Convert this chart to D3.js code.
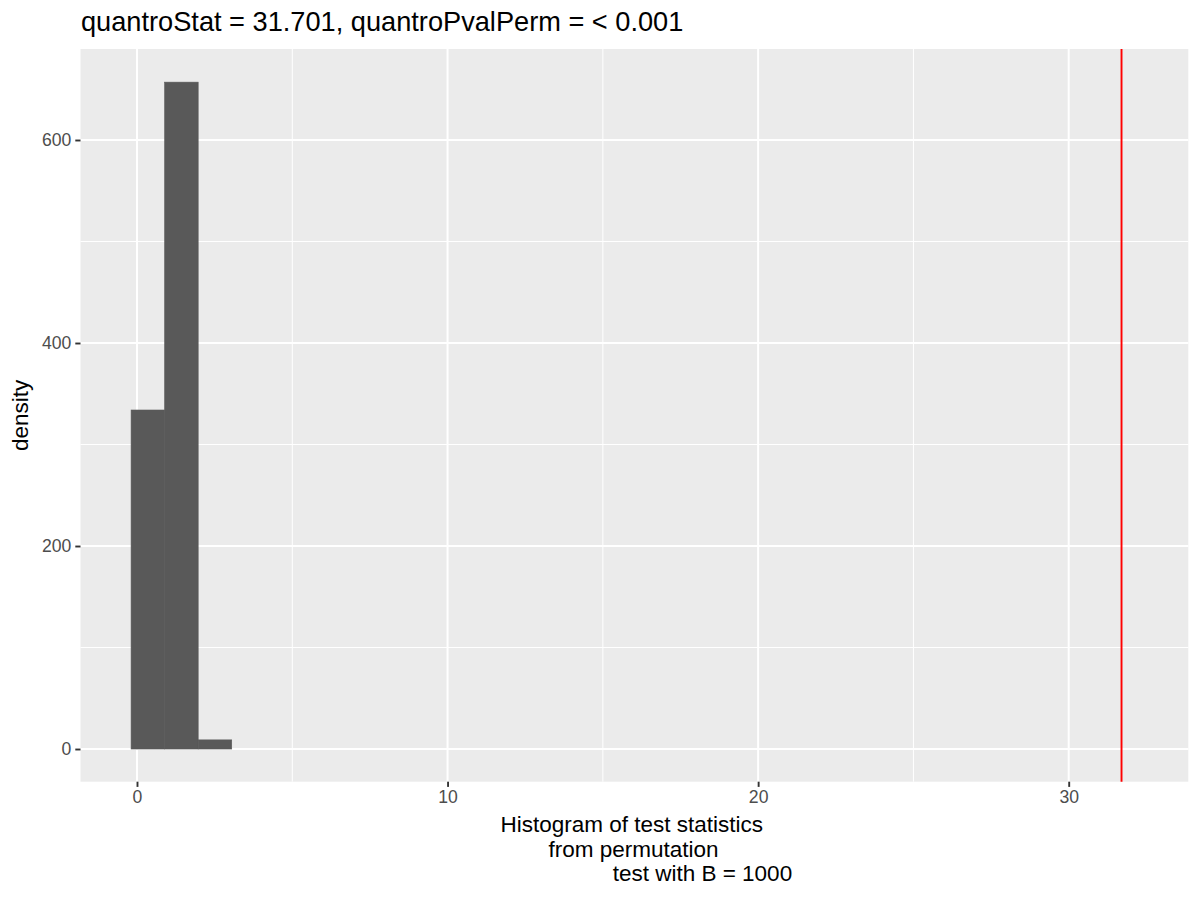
<!DOCTYPE html>
<html>
<head>
<meta charset="utf-8">
<script src="https://cdn.jsdelivr.net/npm/d3@7"></script>
<style>
  html, body { margin: 0; padding: 0; background: #fff; }
  svg { display: block; font-family: "Liberation Sans", Arial, sans-serif; }
</style>
</head>
<body>
<svg id="chart" width="1200" height="900"></svg>
<script>
// ---- data ----
const binStarts = [-0.19, 0.89, 1.97];
const binEnds   = [0.89, 1.97, 3.05];
const densities = [334, 657, 9];
const quantroStat = 31.701;
const xTicks = [0, 10, 20, 30];
const xMinor = [5, 15, 25];
const yTicks = [0, 200, 400, 600];
const yMinor = [100, 300, 500];
const titleText = "quantroStat = 31.701, quantroPvalPerm = < 0.001";
const xTitleLines = ["Histogram of test statistics", "from permutation", "test with B = 1000"];
const yTitle = "density";

// ---- layout ----
const svg = d3.select("#chart");
const panel = { left: 80.5, right: 1188.3, top: 49, bottom: 781.7 };

const x = d3.scaleLinear().domain([-1.819, 33.851]).range([panel.left, panel.right]);
const y = d3.scaleLinear().domain([-32.2, 689.66]).range([panel.bottom, panel.top]);

// panel background
svg.append("rect")
  .attr("x", panel.left).attr("y", panel.top)
  .attr("width", panel.right - panel.left).attr("height", panel.bottom - panel.top)
  .attr("fill", "#EBEBEB");

const g = svg.append("g");

// minor grid
g.selectAll(".xminor").data(xMinor).join("line")
  .attr("x1", d => x(d)).attr("x2", d => x(d))
  .attr("y1", panel.top).attr("y2", panel.bottom)
  .attr("stroke", "#fff").attr("stroke-width", 1);
g.selectAll(".yminor").data(yMinor).join("line")
  .attr("y1", d => y(d)).attr("y2", d => y(d))
  .attr("x1", panel.left).attr("x2", panel.right)
  .attr("stroke", "#fff").attr("stroke-width", 1);
// major grid
g.selectAll(".xmajor").data(xTicks).join("line")
  .attr("x1", d => x(d)).attr("x2", d => x(d))
  .attr("y1", panel.top).attr("y2", panel.bottom)
  .attr("stroke", "#fff").attr("stroke-width", 2);
g.selectAll(".ymajor").data(yTicks).join("line")
  .attr("y1", d => y(d)).attr("y2", d => y(d))
  .attr("x1", panel.left).attr("x2", panel.right)
  .attr("stroke", "#fff").attr("stroke-width", 2);

// bars
const bins = binStarts.map((s, i) => ({ x0: s, x1: binEnds[i], v: densities[i] }));
g.selectAll(".bar").data(bins).join("rect")
  .attr("x", d => x(d.x0))
  .attr("width", d => x(d.x1) - x(d.x0))
  .attr("y", d => y(d.v))
  .attr("height", d => y(0) - y(d.v))
  .attr("fill", "#595959")
  .attr("stroke", "#595959")
  .attr("stroke-width", 0.6);

// vline
g.append("line")
  .attr("x1", x(quantroStat)).attr("x2", x(quantroStat))
  .attr("y1", panel.top).attr("y2", panel.bottom)
  .attr("stroke", "#FF0000").attr("stroke-width", 1.9);

// axes
const xAxis = d3.axisBottom(x).tickValues(xTicks).tickSize(5.2).tickPadding(4).tickFormat(d3.format("d"));
const xg = svg.append("g").attr("transform", `translate(0,${panel.bottom})`).call(xAxis);
const yAxis = d3.axisLeft(y).tickValues(yTicks).tickSize(5.2).tickPadding(4).tickFormat(d3.format("d"));
const yg = svg.append("g").attr("transform", `translate(${panel.left},0)`).call(yAxis);
[xg, yg].forEach(a => {
  a.select(".domain").remove();
  a.selectAll(".tick line").attr("stroke", "#333333").attr("stroke-width", 1.9);
  a.selectAll(".tick text").attr("fill", "#4D4D4D").style("font-size", "17.6px")
    .style("font-family", '"Liberation Sans", Arial, sans-serif');
});

// title
svg.append("text")
  .attr("x", 81).attr("y", 31)
  .attr("fill", "#000")
  .style("font-size", "27.2px")
  .text(titleText);

// x axis title (three lines)
const xTitleCenters = [631.7, 633.5, 702.4];
const xTitleBaselines = [832.3, 856.8, 881.3];
svg.append("g").selectAll("text").data(xTitleLines).join("text")
  .attr("x", (d, i) => xTitleCenters[i])
  .attr("y", (d, i) => xTitleBaselines[i])
  .attr("text-anchor", "middle")
  .attr("fill", "#000")
  .style("font-size", "22.5px")
  .text(d => d);

// y axis title
svg.append("text")
  .attr("transform", `translate(28,${(panel.top + panel.bottom) / 2}) rotate(-90)`)
  .attr("text-anchor", "middle")
  .attr("fill", "#000")
  .style("font-size", "22.5px")
  .text(yTitle);
</script>
</body>
</html>
